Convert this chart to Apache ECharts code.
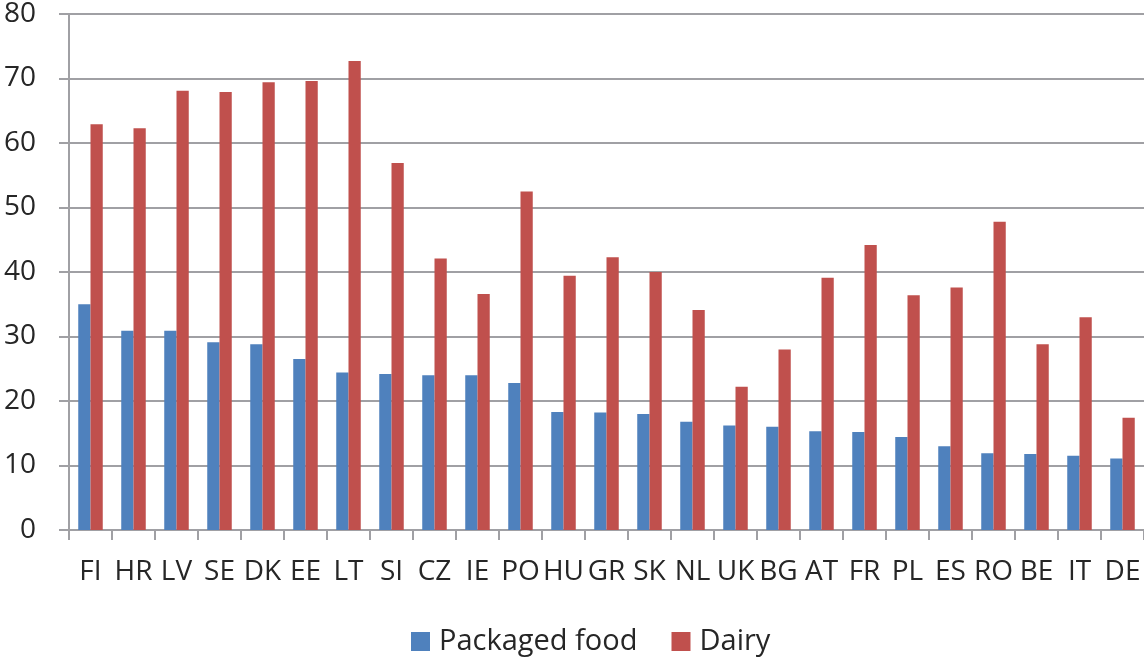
<!DOCTYPE html>
<html>
<head>
<meta charset="utf-8">
<script src="https://cdn.jsdelivr.net/npm/echarts@6/dist/echarts.min.js"></script>
<style>
html,body{margin:0;padding:0;background:#fff;}
#chart{width:1144px;height:660px;}
</style>
</head>
<body>
<div id="chart"></div>
<script>
const categories = ['FI','HR','LV','SE','DK','EE','LT','SI','CZ','IE','PO','HU','GR','SK','NL','UK','BG','AT','FR','PL','ES','RO','BE','IT','DE'];
const packagedFood = [35.0,30.9,30.9,29.1,28.8,26.5,24.4,24.2,24.0,24.0,22.8,18.3,18.2,18.0,16.8,16.2,16.0,15.3,15.2,14.4,13.0,11.9,11.8,11.5,11.1];
const dairy = [62.9,62.3,68.1,67.9,69.4,69.6,72.7,56.9,42.1,36.6,52.5,39.4,42.3,40.0,34.1,22.2,28.0,39.1,44.2,36.4,37.6,47.8,28.8,33.0,17.4];
const yTicks = [0,10,20,30,40,50,60,70,80];

const chart = echarts.init(document.getElementById('chart'));
const gridColor = '#a0a0a4';
const textColor = '#262626';
const font = '"Open Sans", sans-serif';
chart.setOption({
  animation: false,
  textStyle: { fontFamily: font },
  grid: { left: 69, right: -2, top: 14, bottom: 130 },
  legend: {
    bottom: -1,
    left: 406,
    icon: 'rect',
    itemWidth: 19,
    itemHeight: 19,
    itemGap: 34,
    textStyle: { fontSize: 29, color: textColor, fontFamily: font, padding: [0, 0, 0, 4] },
    data: ['Packaged food', 'Dairy']
  },
  xAxis: {
    type: 'category',
    data: categories,
    axisLine: { lineStyle: { color: gridColor, width: 2 } },
    axisTick: { show: true, length: 10, lineStyle: { color: gridColor, width: 2 } },
    axisLabel: { color: textColor, fontSize: 28, margin: 28, interval: 0, fontFamily: font }
  },
  yAxis: {
    type: 'value',
    min: yTicks[0],
    max: yTicks[yTicks.length - 1],
    interval: 10,
    axisLine: { show: true, lineStyle: { color: gridColor, width: 2 } },
    axisTick: { show: true, length: 10, lineStyle: { color: gridColor, width: 2 } },
    splitLine: { lineStyle: { color: gridColor, width: 2 } },
    axisLabel: { color: textColor, fontSize: 28, margin: 33, fontFamily: font }
  },
  series: [
    { name: 'Packaged food', type: 'bar', data: packagedFood, barGap: '0%', barCategoryGap: '43%', itemStyle: { color: '#4F81BD' } },
    { name: 'Dairy', type: 'bar', data: dairy, itemStyle: { color: '#C0504D' } }
  ]
});
</script>
</body>
</html>
